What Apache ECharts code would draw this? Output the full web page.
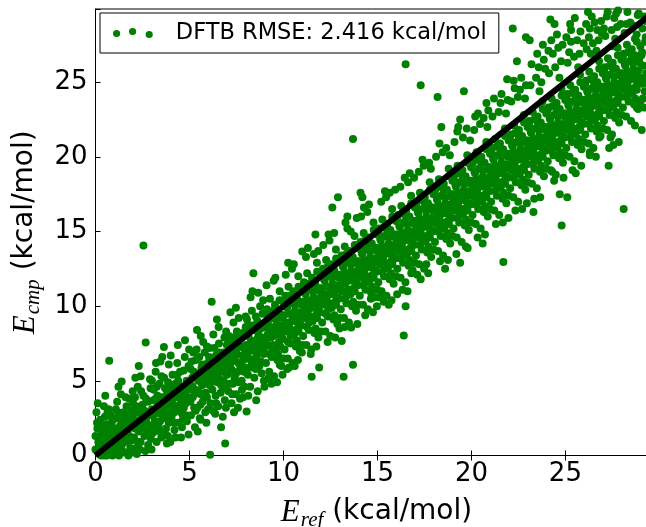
<!DOCTYPE html>
<html><head><meta charset="utf-8">
<script src="https://cdn.jsdelivr.net/npm/echarts@6/dist/echarts.min.js"></script>
<style>html,body{margin:0;padding:0;background:#fff}#c{width:646px;height:527px}</style>
</head><body><div id="c"></div><script>
const tickValues = [0, 5, 10, 15, 20, 25];
const axisMax = 29.9;
const seriesName = 'DFTB RMSE: 2.416 kcal/mol';
const fitLine = [[0, 0], [29.9, 29.9]];

const pointsLow = [
[0.05,2.9],[0.1,1.8],[0.1,0.3],[0.2,1.1],[0.25,2.4],[0.3,0.0],[0.35,0.6],[0.4,1.6],[0.45,3.3],[0.5,0.2],[0.55,1.0],[0.6,2.1],[0.65,0.5],[0.7,1.4],[0.75,0.1],[0.8,2.7],[0.85,0.8],[0.9,1.9],[0.95,0.3],[0.15,0.9],[0.3,2.0],[0.5,2.6],[0.7,3.1],[0.85,1.2],[0.6,0.0],[0.0,1.3],[0.0,0.4],[0.9,0.0],[0.4,0.2],[0.2,0.1],[0.73,6.35],[1.39,4.95],
[1.0,1.7],[1.05,0.4],[1.1,2.5],[1.15,3.6],[1.2,1.1],[1.25,0.0],[1.3,2.0],[1.35,4.1],[1.4,0.7],[1.45,1.5],[1.5,2.9],[1.55,0.2],[1.6,1.9],[1.65,3.3],[1.7,0.9],[1.75,2.4],[1.8,1.3],[1.85,0.5],[1.9,3.0],[1.95,2.0],[1.1,1.4],[1.3,0.9],[1.5,1.2],[1.7,1.6],[1.9,1.0],[1.2,2.9],[1.4,2.2],[1.6,2.6],[1.8,3.8],[1.0,0.1],[1.75,0.0],[1.35,1.8],
[2.0,2.8],[2.05,1.2],[2.1,3.9],[2.15,0.5],[2.2,2.2],[2.25,4.6],[2.3,1.6],[2.35,3.2],[2.4,0.9],[2.45,2.6],[2.5,1.9],[2.55,4.0],[2.6,3.0],[2.65,0.3],[2.7,2.3],[2.75,1.4],[2.8,3.6],[2.85,2.0],[2.9,5.1],[2.95,1.1],[2.1,1.8],[2.3,2.9],[2.5,3.4],[2.7,1.7],[2.9,2.7],[2.2,0.1],[2.4,5.3],[2.6,2.1],[2.8,0.7],[2.0,3.5],[2.55,14.06],[2.67,7.56],[2.35,0.4],
[3.0,3.1],[3.05,1.5],[3.1,4.4],[3.15,2.3],[3.2,5.6],[3.25,0.9],[3.3,3.5],[3.35,2.0],[3.4,4.8],[3.45,2.8],[3.5,1.2],[3.55,3.9],[3.6,2.5],[3.65,5.2],[3.7,3.3],[3.75,1.8],[3.8,4.1],[3.85,2.9],[3.9,6.1],[3.95,3.6],[3.1,2.7],[3.3,4.0],[3.5,3.0],[3.7,4.5],[3.9,2.2],[3.2,3.8],[3.4,1.6],[3.6,3.8],[3.8,0.8],[3.64,7.27],[3.0,5.0],[3.45,6.3],[3.85,1.3],
[4.0,4.3],[4.05,2.6],[4.1,5.4],[4.15,3.4],[4.2,1.7],[4.25,4.8],[4.3,3.0],[4.35,6.2],[4.4,2.2],[4.45,4.0],[4.5,5.6],[4.55,3.6],[4.6,1.9],[4.65,4.6],[4.7,3.2],[4.75,6.6],[4.8,2.7],[4.85,5.0],[4.9,3.9],[4.95,1.4],[4.1,3.8],[4.3,4.4],[4.5,3.1],[4.7,4.2],[4.9,4.8],[4.2,2.9],[4.4,5.0],[4.6,3.7],[4.8,3.5],[4.0,6.7],[4.76,7.72],[4.25,1.2],[4.65,2.4],[4.95,6.0],
[5.02,4.9],[5.08,2.7],[5.11,6.3],[5.17,3.9],[5.23,5.6],[5.29,1.9],[5.31,4.4],[5.38,7.1],[5.42,3.2],[5.46,5.0],[5.52,6.6],[5.55,2.5],[5.61,4.1],[5.64,5.9],[5.7,3.6],[5.73,7.6],[5.79,4.8],[5.84,2.9],[5.88,5.4],[5.93,3.9],[5.97,6.2],[5.05,3.6],[5.14,5.2],[5.26,4.1],[5.35,5.5],[5.48,4.3],[5.58,3.4],[5.67,4.7],[5.76,5.8],[5.86,4.2],[5.95,4.9],[5.2,6.9],[5.44,1.6],[5.6,8.0],[5.9,2.2],[5.33,3.0],[5.81,6.9],
[6.03,5.3],[6.06,7.2],[6.12,3.5],[6.19,6.0],[6.22,4.4],[6.27,8.1],[6.33,5.5],[6.37,2.8],[6.41,6.7],[6.48,4.9],[6.53,3.3],[6.57,7.5],[6.6,5.7],[6.66,4.2],[6.71,6.3],[6.77,2.6],[6.82,5.0],[6.86,7.9],[6.91,4.5],[6.96,6.1],[6.08,4.7],[6.15,5.8],[6.3,6.4],[6.44,5.2],[6.5,6.0],[6.62,5.1],[6.74,5.6],[6.88,3.7],[6.99,5.4],[6.25,3.0],[6.55,8.6],[6.68,1.9],[6.95,8.3],[6.1,0.05],[6.9,0.8],[6.18,10.3],[6.39,4.0],[6.8,6.9],
[7.01,6.6],[7.07,4.3],[7.1,8.0],[7.16,5.9],[7.2,7.1],[7.24,3.5],[7.28,6.3],[7.34,8.9],[7.39,5.2],[7.43,7.6],[7.47,4.1],[7.51,6.8],[7.56,5.6],[7.62,9.2],[7.66,6.1],[7.69,3.8],[7.74,7.3],[7.78,5.0],[7.83,8.2],[7.87,6.4],[7.92,4.6],[7.97,7.0],[7.04,5.5],[7.13,6.9],[7.22,5.8],[7.31,4.8],[7.41,6.5],[7.54,7.2],[7.6,4.9],[7.72,6.0],[7.81,6.7],[7.9,5.6],[7.99,8.6],[7.18,9.6],[7.37,2.9],[7.58,3.2],[7.85,3.9],[7.47,9.9],
[8.02,7.4],[8.06,9.1],[8.11,5.4],[8.14,8.0],[8.19,6.5],[8.23,4.6],[8.27,7.7],[8.32,9.7],[8.36,6.1],[8.41,8.4],[8.45,5.2],[8.5,7.3],[8.53,9.3],[8.58,6.7],[8.63,4.3],[8.67,8.1],[8.72,6.0],[8.76,10.0],[8.81,7.2],[8.84,5.5],[8.89,8.6],[8.94,6.8],[8.98,7.9],[8.08,6.9],[8.17,8.7],[8.29,6.3],[8.39,7.5],[8.47,6.4],[8.6,7.8],[8.7,7.0],[8.79,8.5],[8.87,7.6],[8.96,5.0],[8.04,2.94],[8.4,12.2],[8.25,10.6],[8.55,3.7],[8.92,10.4],[8.13,4.0],[8.66,10.9],
[9.03,8.6],[9.07,6.2],[9.12,9.8],[9.15,7.4],[9.21,8.3],[9.24,5.6],[9.28,10.5],[9.33,7.9],[9.37,6.6],[9.42,9.2],[9.46,8.0],[9.5,5.3],[9.55,10.1],[9.59,7.2],[9.63,8.8],[9.68,6.4],[9.72,9.6],[9.76,7.6],[9.8,11.0],[9.85,8.4],[9.89,6.0],[9.93,9.4],[9.97,7.8],[9.05,7.7],[9.18,9.0],[9.3,8.6],[9.4,7.1],[9.52,8.5],[9.61,9.1],[9.71,8.1],[9.83,7.3],[9.91,8.7],[9.99,10.3],[9.2,5.17],[9.8,6.07],[9.1,11.4],[9.48,11.7],[9.36,4.8],[9.66,4.9],[9.95,5.4]
];

const pointsMid = [
[10.02,9.4],[10.06,7.1],[10.1,10.7],[10.14,8.3],[10.19,9.9],[10.23,6.5],[10.27,11.3],[10.31,8.8],[10.36,7.5],[10.4,10.2],[10.44,9.0],[10.49,6.2],[10.53,11.0],[10.57,8.1],[10.61,9.7],[10.66,7.3],[10.7,10.6],[10.74,8.5],[10.79,12.0],[10.83,9.3],[10.87,7.0],[10.92,10.3],[10.96,8.7],[10.04,8.6],[10.16,10.0],[10.29,9.5],[10.38,8.0],[10.5,9.3],[10.6,10.1],[10.69,9.0],[10.8,8.3],[10.9,9.6],[10.99,11.2],[10.3,5.9],[10.6,6.0],[10.12,12.1],[10.45,12.5],[10.77,6.4],[10.98,6.9],[10.2,5.8],
[11.01,10.3],[11.05,8.0],[11.09,11.6],[11.13,9.2],[11.18,10.8],[11.22,7.4],[11.26,12.2],[11.3,9.7],[11.35,8.4],[11.39,11.1],[11.43,9.9],[11.48,7.1],[11.52,11.9],[11.56,9.0],[11.6,10.6],[11.65,8.2],[11.69,11.5],[11.73,9.4],[11.78,12.9],[11.82,10.2],[11.86,7.9],[11.91,11.2],[11.95,9.6],[11.03,9.5],[11.15,10.9],[11.28,10.4],[11.37,8.9],[11.49,10.2],[11.59,11.0],[11.68,9.9],[11.79,9.2],[11.89,10.5],[11.98,12.1],[11.0,13.66],[11.7,14.8],[11.5,5.28],[11.9,5.89],[11.2,13.3],[11.45,6.8],[11.75,7.3],[11.62,13.5],
[12.02,11.2],[12.06,8.9],[12.1,12.5],[12.14,10.1],[12.19,11.7],[12.23,8.3],[12.27,13.1],[12.31,10.6],[12.36,9.3],[12.4,12.0],[12.44,10.8],[12.49,8.0],[12.53,12.8],[12.57,9.9],[12.61,11.5],[12.66,9.1],[12.7,12.4],[12.74,10.3],[12.79,13.8],[12.83,11.1],[12.87,8.8],[12.92,12.1],[12.96,10.5],[12.04,10.4],[12.16,11.8],[12.29,11.3],[12.38,9.8],[12.5,11.1],[12.6,11.9],[12.69,10.8],[12.8,10.1],[12.9,11.4],[12.99,13.0],[12.6,16.6],[12.9,17.3],[12.12,14.1],[12.45,14.4],[12.35,7.6],[12.75,7.9],[12.98,8.5],
[13.01,12.1],[13.05,9.8],[13.09,13.4],[13.13,11.0],[13.18,12.6],[13.22,9.2],[13.26,14.0],[13.3,11.5],[13.35,10.2],[13.39,12.9],[13.43,11.7],[13.48,8.9],[13.52,13.7],[13.56,10.8],[13.6,12.4],[13.65,10.0],[13.69,13.3],[13.73,11.2],[13.78,14.7],[13.82,12.0],[13.86,9.7],[13.91,13.0],[13.95,11.4],[13.03,11.3],[13.15,12.7],[13.28,12.2],[13.37,10.7],[13.49,12.0],[13.59,12.8],[13.68,11.7],[13.79,11.0],[13.89,12.3],[13.98,13.9],[13.2,5.28],[13.7,6.07],[13.1,7.67],[13.6,8.57],[13.4,16.0],[13.4,15.2],[13.7,21.2],[13.25,8.6],[13.58,15.0],[13.93,8.8],
[14.02,13.0],[14.06,10.7],[14.1,14.3],[14.14,11.9],[14.19,13.5],[14.23,10.1],[14.27,14.9],[14.31,12.4],[14.36,11.1],[14.4,13.8],[14.44,12.6],[14.49,9.8],[14.53,14.6],[14.57,11.7],[14.61,13.3],[14.66,10.9],[14.7,14.2],[14.74,12.1],[14.79,15.6],[14.83,12.9],[14.87,10.6],[14.92,13.9],[14.96,12.3],[14.04,12.2],[14.16,13.6],[14.29,13.1],[14.38,11.6],[14.5,12.9],[14.6,13.7],[14.69,12.6],[14.8,11.9],[14.9,13.2],[14.99,14.8],[14.1,17.6],[14.2,17.3],[14.65,10.5],[14.13,16.0],[14.46,16.3],[14.35,9.4],[14.76,9.6],[14.97,10.0],
[15.01,13.9],[15.05,11.6],[15.09,15.2],[15.13,12.8],[15.18,14.4],[15.22,11.0],[15.26,15.8],[15.3,13.3],[15.35,12.0],[15.39,14.7],[15.43,13.5],[15.48,10.7],[15.52,15.5],[15.56,12.6],[15.6,14.2],[15.65,11.8],[15.69,15.1],[15.73,13.0],[15.78,16.5],[15.82,13.8],[15.86,11.5],[15.91,14.8],[15.95,13.2],[15.03,13.1],[15.15,14.5],[15.28,14.0],[15.37,12.5],[15.49,13.8],[15.59,14.6],[15.68,13.5],[15.79,12.8],[15.89,14.1],[15.98,15.7],[15.6,10.1],[15.2,17.0],[15.46,17.3],[15.33,10.3],[15.75,10.4],[15.94,17.8],[15.11,10.6],
[16.02,14.8],[16.06,12.5],[16.1,16.1],[16.14,13.7],[16.19,15.3],[16.23,11.9],[16.27,16.7],[16.31,14.2],[16.36,12.9],[16.4,15.6],[16.44,14.4],[16.49,11.6],[16.53,16.4],[16.57,13.5],[16.61,15.1],[16.66,12.7],[16.7,16.0],[16.74,13.9],[16.79,17.4],[16.83,14.7],[16.87,12.4],[16.92,15.7],[16.96,14.1],[16.04,14.0],[16.16,15.4],[16.29,14.9],[16.38,13.4],[16.5,14.7],[16.6,15.5],[16.69,14.4],[16.8,13.7],[16.9,15.0],[16.99,16.6],[16.4,8.03],[16.5,10.0],[16.05,10.8],[16.6,11.0],[16.8,12.2],[16.5,26.2],[16.22,18.0],[16.63,18.3],[16.95,18.6],[16.34,11.1],
[17.01,15.7],[17.05,13.4],[17.09,17.0],[17.13,14.6],[17.18,16.2],[17.22,12.8],[17.26,17.6],[17.3,15.1],[17.35,13.8],[17.39,16.5],[17.43,15.3],[17.48,12.5],[17.52,17.3],[17.56,14.4],[17.6,16.0],[17.65,13.6],[17.69,16.9],[17.73,14.8],[17.78,18.3],[17.82,15.6],[17.86,13.3],[17.91,16.6],[17.95,15.0],[17.03,14.9],[17.15,16.3],[17.28,15.8],[17.37,14.3],[17.49,15.6],[17.59,16.4],[17.68,15.3],[17.79,14.6],[17.89,15.9],[17.98,17.5],[17.3,11.8],[17.6,12.8],[17.3,24.8],[17.2,19.0],[17.46,19.4],[17.84,19.2],[17.7,12.2],[17.12,12.1],
[18.02,16.6],[18.06,14.3],[18.1,17.9],[18.14,15.5],[18.19,17.1],[18.23,13.7],[18.27,18.5],[18.31,16.0],[18.36,14.7],[18.4,17.4],[18.44,16.2],[18.49,13.4],[18.53,18.2],[18.57,15.3],[18.61,16.9],[18.66,14.5],[18.7,17.8],[18.74,15.7],[18.79,19.2],[18.83,16.5],[18.87,14.2],[18.92,17.5],[18.96,15.9],[18.04,15.8],[18.16,17.2],[18.29,16.7],[18.38,15.2],[18.5,16.5],[18.6,17.3],[18.69,16.2],[18.8,15.5],[18.9,16.8],[18.99,18.4],[18.6,12.5],[18.2,24.0],[18.4,22.0],[18.12,20.0],[18.47,20.3],[18.85,20.1],[18.33,13.0],[18.75,13.1],
[19.01,17.5],[19.05,15.2],[19.09,18.8],[19.13,16.4],[19.18,18.0],[19.22,14.6],[19.26,19.4],[19.3,16.9],[19.35,15.6],[19.39,18.3],[19.43,17.1],[19.48,14.3],[19.52,19.1],[19.56,16.2],[19.6,17.8],[19.65,15.4],[19.69,18.7],[19.73,16.6],[19.78,20.1],[19.82,17.4],[19.86,15.1],[19.91,18.4],[19.95,16.8],[19.03,16.7],[19.15,18.1],[19.28,17.6],[19.37,16.1],[19.49,17.4],[19.59,18.2],[19.68,17.1],[19.79,16.4],[19.89,17.7],[19.98,19.3],[19.4,12.9],[19.8,13.9],[19.6,24.4],[19.4,22.5],[19.3,22.0],[19.1,21.0],[19.55,21.3],[19.93,21.1],[19.2,13.5],[19.7,14.0]
];

const pointsHigh = [
[20.02,18.4],[20.06,16.1],[20.1,19.7],[20.14,17.3],[20.19,18.9],[20.23,15.5],[20.27,20.3],[20.31,17.8],[20.36,16.5],[20.4,19.2],[20.44,18.0],[20.49,15.2],[20.53,20.0],[20.57,17.1],[20.61,18.7],[20.66,16.3],[20.7,19.6],[20.74,17.5],[20.79,21.0],[20.83,18.3],[20.87,16.0],[20.92,19.3],[20.96,17.7],[20.04,17.6],[20.16,19.0],[20.29,18.5],[20.38,17.0],[20.5,18.3],[20.6,19.1],[20.69,18.0],[20.8,17.3],[20.9,18.6],[20.99,20.2],[20.6,14.2],[20.8,23.6],[20.15,21.8],[20.46,22.2],[20.85,22.0],[20.33,14.6],[20.72,14.8],[20.2,22.7],
[21.01,19.3],[21.05,17.0],[21.09,20.6],[21.13,18.2],[21.18,19.8],[21.22,16.4],[21.26,21.2],[21.3,18.7],[21.35,17.4],[21.39,20.1],[21.43,18.9],[21.48,16.1],[21.52,20.9],[21.56,18.0],[21.6,19.6],[21.65,17.2],[21.69,20.5],[21.73,18.4],[21.78,21.9],[21.82,19.2],[21.86,16.9],[21.91,20.2],[21.95,18.6],[21.03,18.5],[21.15,19.9],[21.28,19.4],[21.37,17.9],[21.49,19.2],[21.59,20.0],[21.68,18.9],[21.79,18.2],[21.89,19.5],[21.98,21.1],[21.7,12.95],[21.9,25.2],[21.12,22.7],[21.45,23.0],[21.84,22.9],[21.3,15.5],[21.67,15.6],[21.55,23.6],[21.97,15.9],
[22.02,20.2],[22.06,17.9],[22.1,21.5],[22.14,19.1],[22.19,20.7],[22.23,17.3],[22.27,22.1],[22.31,19.6],[22.36,18.3],[22.4,21.0],[22.44,19.8],[22.49,17.0],[22.53,21.8],[22.57,18.9],[22.61,20.5],[22.66,18.1],[22.7,21.4],[22.74,19.3],[22.79,22.8],[22.83,20.1],[22.87,17.8],[22.92,21.1],[22.96,19.5],[22.04,19.4],[22.16,20.8],[22.29,20.3],[22.38,18.8],[22.5,20.1],[22.6,20.9],[22.69,19.8],[22.8,19.1],[22.9,20.4],[22.99,22.0],[22.2,28.6],[22.9,28.0],[22.3,24.6],[22.7,16.5],[22.12,23.7],[22.47,24.0],[22.85,23.9],[22.34,16.4],[22.58,24.5],[22.95,16.9],
[23.01,21.1],[23.05,18.8],[23.09,22.4],[23.13,20.0],[23.18,21.6],[23.22,18.2],[23.26,23.0],[23.3,20.5],[23.35,19.2],[23.39,21.9],[23.43,20.7],[23.48,17.9],[23.52,22.7],[23.56,19.8],[23.6,21.4],[23.65,19.0],[23.69,22.3],[23.73,20.2],[23.78,23.7],[23.82,21.0],[23.86,18.7],[23.91,22.0],[23.95,20.4],[23.03,20.3],[23.15,21.7],[23.28,21.2],[23.37,19.7],[23.49,21.0],[23.59,21.8],[23.68,20.7],[23.79,20.0],[23.89,21.3],[23.98,22.9],[23.1,27.8],[23.8,27.5],[23.3,16.3],[23.14,24.8],[23.44,25.3],[23.72,25.0],[23.58,26.0],[23.34,17.2],[23.66,17.3],[23.92,25.9],
[24.02,22.0],[24.06,19.7],[24.1,23.3],[24.14,20.9],[24.19,22.5],[24.23,19.1],[24.27,23.9],[24.31,21.4],[24.36,20.1],[24.4,22.8],[24.44,21.6],[24.49,18.8],[24.53,23.6],[24.57,20.7],[24.61,22.3],[24.66,19.9],[24.7,23.2],[24.74,21.1],[24.79,24.6],[24.83,21.9],[24.87,19.6],[24.92,22.9],[24.96,21.3],[24.04,21.2],[24.16,22.6],[24.29,22.1],[24.38,20.6],[24.5,21.9],[24.6,22.7],[24.69,21.6],[24.8,20.9],[24.9,22.2],[24.99,23.8],[24.2,29.2],[24.1,27.1],[24.8,15.4],[24.7,17.5],[24.3,19.0],[24.4,18.4],[24.13,25.6],[24.46,26.0],[24.77,26.4],[24.62,27.3],[24.9,18.6],[24.33,26.9],
[25.01,22.9],[25.05,20.6],[25.09,24.2],[25.13,21.8],[25.18,23.4],[25.22,20.0],[25.26,24.8],[25.3,22.3],[25.35,21.0],[25.39,23.7],[25.43,22.5],[25.48,19.7],[25.52,24.5],[25.56,21.6],[25.6,23.2],[25.65,20.8],[25.69,24.1],[25.73,22.0],[25.78,25.5],[25.82,22.8],[25.86,20.5],[25.91,23.8],[25.95,22.2],[25.03,22.1],[25.15,23.5],[25.28,23.0],[25.37,21.5],[25.49,22.8],[25.59,23.6],[25.68,22.5],[25.79,21.8],[25.89,23.1],[25.98,24.7],[25.3,28.5],[25.3,27.7],[25.2,27.0],[25.1,17.3],[25.12,26.3],[25.46,26.7],[25.75,26.9],[25.62,27.8],[25.38,19.1],[25.84,19.4],[25.97,27.6],[25.55,18.9],
[26.02,23.8],[26.06,21.5],[26.1,25.1],[26.14,22.7],[26.19,24.3],[26.23,20.9],[26.27,25.7],[26.31,23.2],[26.36,21.9],[26.4,24.6],[26.44,23.4],[26.49,20.6],[26.53,25.4],[26.57,22.5],[26.61,24.1],[26.66,21.7],[26.7,25.0],[26.74,22.9],[26.79,26.4],[26.83,23.7],[26.87,21.4],[26.92,24.7],[26.96,23.1],[26.04,23.0],[26.16,24.4],[26.29,23.9],[26.38,22.4],[26.5,23.7],[26.6,24.5],[26.69,23.4],[26.8,22.7],[26.9,24.0],[26.99,25.6],[26.2,29.7],[26.3,28.6],[26.7,28.5],[26.3,20.3],[26.3,20.1],[26.8,21.3],[26.13,27.2],[26.47,27.6],[26.76,27.8],[26.55,29.0],[26.93,28.3],[26.25,28.0],[26.62,20.0],
[27.01,24.7],[27.05,22.4],[27.09,26.0],[27.13,23.6],[27.18,25.2],[27.22,21.8],[27.26,26.6],[27.3,24.1],[27.35,22.8],[27.39,25.5],[27.43,24.3],[27.48,21.5],[27.52,26.3],[27.56,23.4],[27.6,25.0],[27.65,22.6],[27.69,25.9],[27.73,23.8],[27.78,27.3],[27.82,24.6],[27.86,22.3],[27.91,25.6],[27.95,24.0],[27.03,23.9],[27.15,25.3],[27.28,24.8],[27.37,23.3],[27.49,24.6],[27.59,25.4],[27.68,24.3],[27.79,23.6],[27.89,24.9],[27.98,26.5],[27.2,29.4],[27.7,29.6],[27.3,19.4],[27.4,21.3],[27.12,28.1],[27.46,28.5],[27.75,28.7],[27.6,29.3],[27.94,28.9],[27.33,20.6],[27.84,21.0],[27.55,20.8],
[28.02,25.6],[28.06,23.3],[28.1,26.9],[28.14,24.5],[28.19,26.1],[28.23,22.7],[28.27,27.5],[28.31,25.0],[28.36,23.7],[28.4,26.4],[28.44,25.2],[28.49,22.4],[28.53,27.2],[28.57,24.3],[28.61,25.9],[28.66,23.5],[28.7,26.8],[28.74,24.7],[28.79,28.2],[28.83,25.5],[28.87,23.2],[28.92,26.5],[28.96,24.9],[28.04,24.8],[28.16,26.2],[28.29,25.7],[28.38,24.2],[28.5,25.5],[28.6,26.3],[28.69,25.2],[28.8,24.5],[28.9,25.8],[28.99,27.4],[28.1,16.5],[28.8,23.3],[28.7,22.1],[29.03,25.3],[29.08,27.0],[29.12,23.9],[29.17,26.1],[29.22,24.4],[29.27,28.0],[29.06,21.8],[29.2,29.4],[28.45,29.0],[28.85,29.5],[28.25,28.9],[29.3,25.6]
];

const pointsFill = [
[0.08,2.2],[0.22,0.7],[0.33,1.4],[0.47,0.0],[0.58,1.7],[0.64,2.9],[0.77,0.6],[0.88,2.3],[0.97,1.5],[0.12,3.5],[0.52,4.0],[0.42,1.0],
[1.08,3.1],[1.17,0.6],[1.26,1.7],[1.34,2.6],[1.43,0.3],[1.51,2.2],[1.6,3.9],[1.69,1.1],[1.77,1.9],[1.86,2.8],[1.93,0.2],[1.98,4.3],[1.22,4.6],
[2.08,2.4],[2.17,3.3],[2.26,0.9],[2.34,1.9],[2.43,4.3],[2.51,2.7],[2.6,1.3],[2.69,3.8],[2.77,2.9],[2.86,1.6],[2.93,4.5],[2.98,0.4],[2.3,6.0],[2.12,5.2],
[3.08,3.7],[3.17,1.9],[3.26,4.6],[3.34,3.0],[3.43,2.3],[3.51,5.3],[3.6,3.4],[3.69,1.5],[3.77,2.7],[3.86,4.9],[3.93,3.2],[3.98,0.9],[3.55,6.6],[3.22,6.2],
[4.08,4.7],[4.17,2.2],[4.26,3.9],[4.34,5.4],[4.43,3.3],[4.51,4.5],[4.6,2.8],[4.69,5.7],[4.77,3.8],[4.86,2.3],[4.93,4.4],[4.98,7.1],[4.38,7.4],[4.55,1.2],
[5.06,5.8],[5.16,4.6],[5.25,3.2],[5.34,6.4],[5.43,4.2],[5.51,5.3],[5.59,2.4],[5.68,6.1],[5.77,4.0],[5.85,5.1],[5.93,7.3],[5.99,3.1],[5.4,8.4],
[6.04,6.6],[6.13,4.9],[6.23,5.4],[6.32,7.2],[6.42,3.5],[6.51,5.5],[6.59,6.9],[6.69,4.7],[6.78,5.9],[6.87,6.6],[6.94,3.2],[6.99,7.4],[6.46,9.1],
[7.06,7.6],[7.15,4.8],[7.25,6.4],[7.33,7.9],[7.44,5.4],[7.52,8.3],[7.61,6.2],[7.7,7.9],[7.79,4.4],[7.88,7.2],[7.94,5.9],[7.99,9.3],[7.27,4.1],
[8.05,8.3],[8.15,7.1],[8.24,5.9],[8.33,8.7],[8.43,7.0],[8.52,5.8],[8.61,9.0],[8.71,7.4],[8.8,6.3],[8.88,9.5],[8.95,7.1],[8.99,4.6],[8.35,11.0],
[9.06,9.5],[9.16,8.1],[9.26,6.8],[9.35,9.6],[9.44,7.4],[9.53,9.8],[9.62,8.2],[9.71,6.8],[9.79,10.4],[9.88,8.0],[9.94,9.2],[9.99,6.5],[9.57,11.9],
[10.05,10.4],[10.15,8.9],[10.24,7.6],[10.33,10.7],[10.43,8.4],[10.52,10.6],[10.61,9.0],[10.71,7.7],[10.8,11.3],[10.88,8.8],[10.95,10.1],[10.99,7.4],[10.55,12.8],[10.25,12.9],
[11.06,11.3],[11.16,9.9],[11.26,8.6],[11.35,11.5],[11.44,9.3],[11.53,11.4],[11.62,9.9],[11.71,8.5],[11.79,12.3],[11.88,9.7],[11.94,11.0],[11.99,8.3],[11.3,13.9],[11.85,13.7],
[12.05,12.3],[12.15,10.8],[12.24,9.5],[12.33,12.6],[12.43,10.2],[12.52,12.3],[12.61,10.9],[12.71,9.4],[12.8,13.2],[12.88,10.6],[12.95,11.9],[12.99,9.2],[12.4,14.8],[12.7,14.9],
[13.06,13.2],[13.16,11.8],[13.26,10.5],[13.35,13.5],[13.44,11.1],[13.53,13.1],[13.62,11.8],[13.71,10.3],[13.79,14.1],[13.88,11.5],[13.94,12.8],[13.99,10.1],[13.3,15.6],[13.9,15.9],
[14.05,14.0],[14.15,12.7],[14.24,11.4],[14.33,14.4],[14.43,12.0],[14.52,14.2],[14.61,12.7],[14.71,11.3],[14.8,15.1],[14.88,12.4],[14.95,13.7],[14.99,11.1],[14.55,16.8],[14.28,16.6],
[15.06,14.9],[15.16,13.6],[15.26,12.3],[15.35,15.3],[15.44,12.9],[15.53,15.0],[15.62,13.6],[15.71,12.2],[15.79,16.0],[15.88,13.3],[15.94,14.6],[15.99,12.0],[15.65,17.6],[15.4,17.7],
[16.05,15.9],[16.15,14.5],[16.24,13.2],[16.33,16.2],[16.43,13.8],[16.52,16.0],[16.61,14.5],[16.71,13.1],[16.8,16.9],[16.88,14.2],[16.95,15.5],[16.99,12.9],[16.45,18.6],[16.72,18.9],
[17.06,16.8],[17.16,15.4],[17.26,14.1],[17.35,17.1],[17.44,14.7],[17.53,16.9],[17.62,15.4],[17.71,14.0],[17.79,17.8],[17.88,15.1],[17.94,16.4],[17.99,13.8],[17.4,19.8],[17.75,19.6],
[18.05,17.7],[18.15,16.3],[18.24,15.0],[18.33,18.0],[18.43,15.6],[18.52,17.8],[18.61,16.3],[18.71,14.9],[18.8,18.7],[18.88,16.0],[18.95,17.3],[18.99,14.7],[18.3,20.9],[18.66,20.6],
[19.06,18.6],[19.16,17.2],[19.26,15.9],[19.35,18.9],[19.44,16.5],[19.53,18.7],[19.62,17.2],[19.71,15.8],[19.79,19.6],[19.88,16.9],[19.94,18.2],[19.99,15.6],[19.25,21.7],[19.75,21.9],
[20.05,19.5],[20.15,18.1],[20.24,16.8],[20.33,19.8],[20.43,17.4],[20.52,19.6],[20.61,18.1],[20.71,16.7],[20.8,20.5],[20.88,17.8],[20.95,19.1],[20.99,16.5],[20.35,22.9],[20.65,22.6],[20.9,23.1],
[21.06,20.4],[21.16,19.0],[21.26,17.7],[21.35,20.7],[21.44,18.3],[21.53,20.5],[21.62,19.0],[21.71,17.6],[21.79,21.4],[21.88,18.7],[21.94,20.0],[21.99,17.4],[21.2,23.9],[21.6,24.2],[21.93,23.8],
[22.05,21.3],[22.15,19.9],[22.24,18.6],[22.33,21.6],[22.43,19.2],[22.52,21.4],[22.61,19.9],[22.71,18.5],[22.8,22.3],[22.88,19.6],[22.95,20.9],[22.99,18.3],[22.25,25.1],[22.65,25.3],[22.9,24.8],[22.42,26.4],
[23.06,22.2],[23.16,20.8],[23.26,19.5],[23.35,22.5],[23.44,20.1],[23.53,22.3],[23.62,20.8],[23.71,19.4],[23.79,23.2],[23.88,20.5],[23.94,21.8],[23.99,19.2],[23.2,26.2],[23.5,26.9],[23.85,26.5],[23.62,24.4],
[24.05,23.1],[24.15,21.7],[24.24,20.4],[24.33,23.4],[24.43,21.0],[24.52,23.2],[24.61,21.7],[24.71,20.3],[24.8,24.1],[24.88,21.4],[24.95,22.7],[24.99,20.1],[24.25,27.8],[24.55,28.2],[24.85,27.5],[24.68,25.3],[24.42,28.9],
[25.06,24.0],[25.16,22.6],[25.26,21.3],[25.35,24.3],[25.44,21.9],[25.53,24.1],[25.62,22.6],[25.71,21.2],[25.79,25.0],[25.88,22.3],[25.94,23.6],[25.99,21.0],[25.25,28.9],[25.5,29.3],[25.8,28.4],[25.68,26.0],[25.05,28.0],
[26.05,24.9],[26.15,23.5],[26.24,22.2],[26.33,25.2],[26.43,22.8],[26.52,25.0],[26.61,23.5],[26.71,22.1],[26.8,25.9],[26.88,23.2],[26.95,24.5],[26.99,21.9],[26.4,29.4],[26.65,27.1],[26.9,29.1],[26.1,28.9],[26.35,26.9],
[27.06,25.8],[27.16,24.4],[27.26,23.1],[27.35,26.1],[27.44,23.7],[27.53,25.9],[27.62,24.4],[27.71,23.0],[27.79,26.8],[27.88,24.1],[27.94,25.4],[27.99,22.8],[27.25,29.7],[27.5,27.4],[27.8,29.8],[27.05,28.6],[27.65,27.9],
[28.05,26.7],[28.15,25.3],[28.24,24.0],[28.33,27.0],[28.43,24.6],[28.52,26.8],[28.61,25.3],[28.71,23.9],[28.8,27.7],[28.88,25.0],[28.95,26.3],[28.99,23.7],[28.3,29.7],[28.6,28.8],[28.9,29.6],[28.15,28.3],[28.7,27.9],
[29.05,26.8],[29.14,24.9],[29.24,27.7],[29.33,25.2],[29.1,28.6],[29.28,29.1],[29.18,23.3]
];

const allPoints = pointsLow.concat(pointsMid, pointsHigh, pointsFill);

const sans = 'DejaVu Sans';
const serif = 'Liberation Serif';
const legendIcon = 'path://M0.1,6a3.6,3.6 0 1,0 7.2,0a3.6,3.6 0 1,0 -7.2,0zM16.1,4a3.6,3.6 0 1,0 7.2,0a3.6,3.6 0 1,0 -7.2,0zM32.7,7a3.6,3.6 0 1,0 7.2,0a3.6,3.6 0 1,0 -7.2,0z';
const tickFmt = v => tickValues.indexOf(v) >= 0 ? String(v) : '';
const nameRich = {
  e: {fontFamily: serif, fontStyle: 'italic', fontSize: 31, lineHeight: 30, verticalAlign: 'top', color: '#000'},
  s: {fontFamily: serif, fontStyle: 'italic', fontSize: 21, lineHeight: 20, padding: [12, 0, 0, 1], verticalAlign: 'top', color: '#000'},
  n: {fontFamily: sans, fontSize: 28, lineHeight: 30, verticalAlign: 'top', color: '#000'}
};

const chart = echarts.init(document.getElementById('c'), null, {renderer: 'canvas'});
chart.setOption({
  animation: false,
  backgroundColor: '#fff',
  grid: {left: 95.5, top: 9, width: 562, height: 446.5, outerBoundsMode: 'none', containLabel: false, show: true, borderColor: '#000', borderWidth: 1, backgroundColor: 'transparent'},
  legend: {
    left: 100, top: 13, padding: [7, 12, 7, 13],
    backgroundColor: '#fff', borderColor: '#000', borderWidth: 1, borderRadius: 0,
    itemWidth: 39.8, itemHeight: 10.2, selectedMode: false,
    textStyle: {fontFamily: sans, fontSize: 22.5, color: '#000', padding: [0, 0, 0, 18], lineHeight: 26},
    data: [{name: seriesName, icon: legendIcon}]
  },
  xAxis: [{
    type: 'value', min: 0, max: axisMax, interval: 5, position: 'bottom',
    axisLine: {show: true, onZero: false, lineStyle: {color: '#000', width: 1}},
    axisTick: {show: true, inside: true, length: 5, lineStyle: {color: '#000', width: 1}},
    splitLine: {show: false},
    axisLabel: {fontFamily: sans, fontSize: 26, color: '#000', margin: 6, formatter: tickFmt},
    name: '{e|E}{s|ref}{n| (kcal/mol)}', nameLocation: 'middle', nameGap: 42,
    nameTextStyle: {rich: nameRich}
  }, {
    type: 'value', min: 0, max: axisMax, interval: 5, position: 'top',
    axisLine: {show: false}, axisTick: {show: true, inside: true, length: 5, lineStyle: {color: '#000', width: 1}},
    axisLabel: {show: false}, splitLine: {show: false}
  }],
  yAxis: [{
    type: 'value', min: 0, max: axisMax, interval: 5, position: 'left',
    axisLine: {show: true, onZero: false, lineStyle: {color: '#000', width: 1}},
    axisTick: {show: true, inside: true, length: 5, lineStyle: {color: '#000', width: 1}},
    splitLine: {show: false},
    axisLabel: {fontFamily: sans, fontSize: 26, color: '#000', margin: 8, formatter: tickFmt},
    name: '{e|E}{s|cmp}{n| (kcal/mol)}', nameLocation: 'middle', nameGap: 52,
    nameTextStyle: {rich: nameRich}
  }],
  series: [{
    type: 'scatter', name: seriesName, data: allPoints, xAxisIndex: 0, yAxisIndex: 0,
    symbol: 'circle', symbolSize: 8, itemStyle: {color: '#008000', opacity: 1}, z: 2, silent: true
  }, {
    type: 'line', data: fitLine, xAxisIndex: 0, yAxisIndex: 0, symbol: 'none', showSymbol: false,
    lineStyle: {color: '#000', width: 6}, itemStyle: {color: '#000'}, z: 3, silent: true, clip: true
  }]
});
</script></body></html>
